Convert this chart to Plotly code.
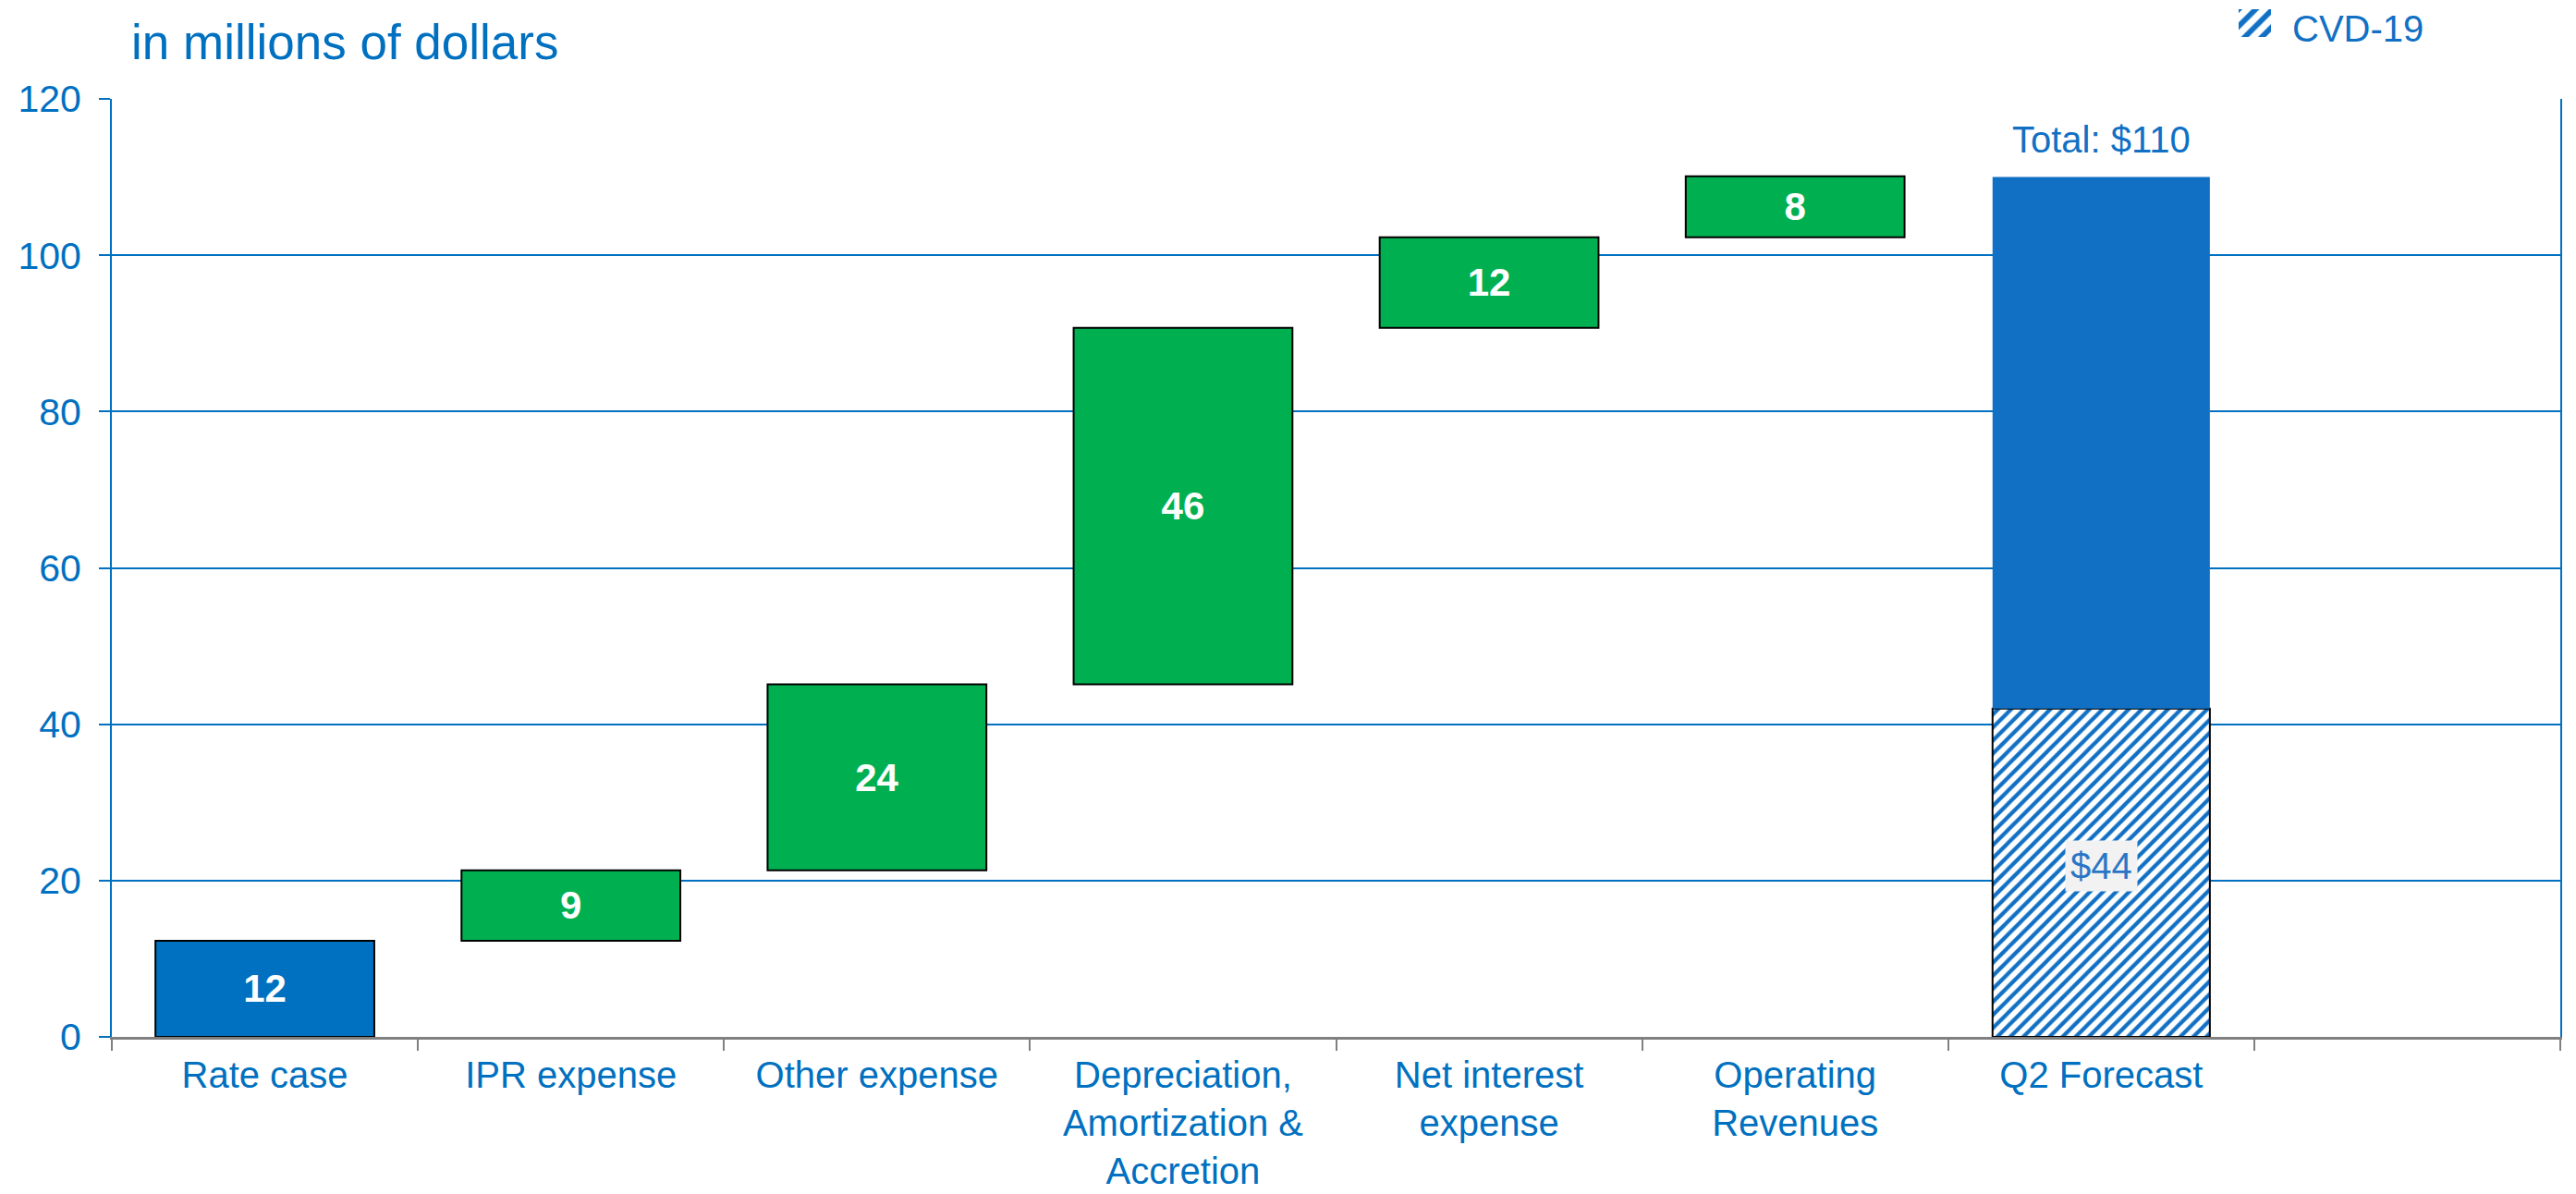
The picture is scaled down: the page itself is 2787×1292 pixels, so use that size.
import plotly.graph_objects as go

# ---- data ----
categories = ["Rate case", "IPR expense", "Other expense",
              "Depreciation,<br>Amortization &<br>Accretion",
              "Net interest<br>expense", "Operating<br>Revenues",
              "Q2 Forecast", " "]
step_values = [12.3, 9.0, 23.8, 45.6, 11.6, 7.8]
step_labels = ["12", "9", "24", "46", "12", "8"]
forecast_category = "Q2 Forecast"
forecast_total = 110
cvd_drawn = 42
cvd_label = "$44"
total_label = "Total: $110"
legend_name = "CVD-19"
y_ticks = [0, 20, 40, 60, 80, 100, 120]

BLUE = "#0070C0"
BLUE2 = "#1170C4"
GREEN = "#00B050"
FONT = "Liberation Sans"

# page body has an 8px margin -> figure is sized/offset to compensate
W, H = 2779, 1284
ML, MR, MT, MB = 113, 17, 0, 170
PW, PH = W - ML - MR, H - MT - MB
PLOT_TOP = 99  # figure px where the main plot area starts


def px_x(x):
    return (x - ML) / PW


def px_y(y):
    return 1 - (y - MT) / PH


step_colors = [BLUE] + [GREEN] * (len(step_values) - 1)
bases = []
acc = 0
for v in step_values:
    bases.append(acc)
    acc += v

fig = go.Figure()

fig.add_trace(go.Bar(
    x=categories[:len(step_values)], y=step_values, base=bases,
    width=0.715,
    marker=dict(color=step_colors, line=dict(color="black", width=2)),
    text=step_labels, textposition="inside", insidetextanchor="middle",
    textangle=0, constraintext="none",
    textfont=dict(family=FONT, size=42, color="white", weight="bold"),
    showlegend=False, hoverinfo="skip",
))

hatch = dict(shape="/", fgcolor=BLUE2, bgcolor="white", fgopacity=1,
             size=10, solidity=0.42, fillmode="replace")

# hatched CVD-19 portion
fig.add_trace(go.Bar(
    x=[forecast_category], y=[cvd_drawn], base=[0], width=0.71,
    name=legend_name,
    marker=dict(color="white", pattern=hatch,
                line=dict(color="black", width=2)),
    showlegend=False, hoverinfo="skip",
))

# solid remainder
fig.add_trace(go.Bar(
    x=[forecast_category], y=[forecast_total - cvd_drawn], base=[cvd_drawn],
    width=0.71,
    marker=dict(color=BLUE2, line=dict(width=0)),
    showlegend=False, hoverinfo="skip",
))

# legend key (hatched swatch) on its own small axis
fig.add_trace(go.Bar(
    x=[0], y=[1], width=1, xaxis="x2", yaxis="y2",
    marker=dict(color="white",
                pattern=dict(shape="/", fgcolor=BLUE2, bgcolor="white",
                             fgopacity=1, size=13, solidity=0.45,
                             fillmode="replace"),
                line=dict(width=0)),
    showlegend=False, hoverinfo="skip",
))
fig.add_annotation(
    x=px_x(2470), y=px_y(23), xref="paper", yref="paper",
    xanchor="left", yanchor="middle", text=legend_name, showarrow=False,
    font=dict(family=FONT, size=40, color=BLUE2),
)

fig.add_annotation(
    x=forecast_category, y=forecast_total, xref="x", yref="y",
    yanchor="middle", yshift=41, text=total_label, showarrow=False,
    font=dict(family=FONT, size=40, color=BLUE2),
)

fig.add_annotation(
    x=forecast_category, y=cvd_drawn / 2, xref="x", yref="y", yshift=7,
    text=cvd_label, showarrow=False,
    font=dict(family=FONT, size=40, color="#2A76C6"),
    bgcolor="#F2F2F2", borderpad=5,
)

fig.add_annotation(
    x=px_x(132), y=px_y(37), xref="paper", yref="paper",
    xanchor="left", yanchor="middle",
    text="in millions of dollars", showarrow=False,
    font=dict(family=FONT, size=53, color=BLUE),
)

fig.update_layout(
    width=W, height=H,
    margin=dict(l=ML, r=MR, t=MT, b=MB, autoexpand=False),
    paper_bgcolor="white", plot_bgcolor="white",
    barmode="overlay", showlegend=False,
    font=dict(family=FONT, color=BLUE),
    xaxis=dict(type="category", categoryorder="array", categoryarray=categories,
               range=[-0.5, len(categories) - 0.5], domain=[0, 1],
               tickson="boundaries", ticks="outside", ticklen=12,
               tickcolor="#808080", tickwidth=2,
               showline=True, linecolor="#808080", linewidth=3,
               showgrid=False, ticklabelstandoff=4,
               tickfont=dict(family=FONT, size=40, color=BLUE)),
    yaxis=dict(range=[0, 120], tickvals=y_ticks, ticks="outside", ticklen=12,
               domain=[0, px_y(PLOT_TOP)],
               tickcolor=BLUE, tickwidth=2,
               showgrid=True, gridcolor=BLUE, gridwidth=2,
               showline=True, linecolor=BLUE, linewidth=2, mirror=True,
               zeroline=False, ticklabelstandoff=11,
               tickfont=dict(family=FONT, size=41, color=BLUE)),
    xaxis2=dict(domain=[px_x(2414), px_x(2449)], range=[-0.5, 0.5],
                anchor="y2", visible=False, fixedrange=True),
    yaxis2=dict(domain=[px_y(32), px_y(2)], range=[0, 1],
                anchor="x2", visible=False, fixedrange=True),
)

fig.write_html("out.html")
